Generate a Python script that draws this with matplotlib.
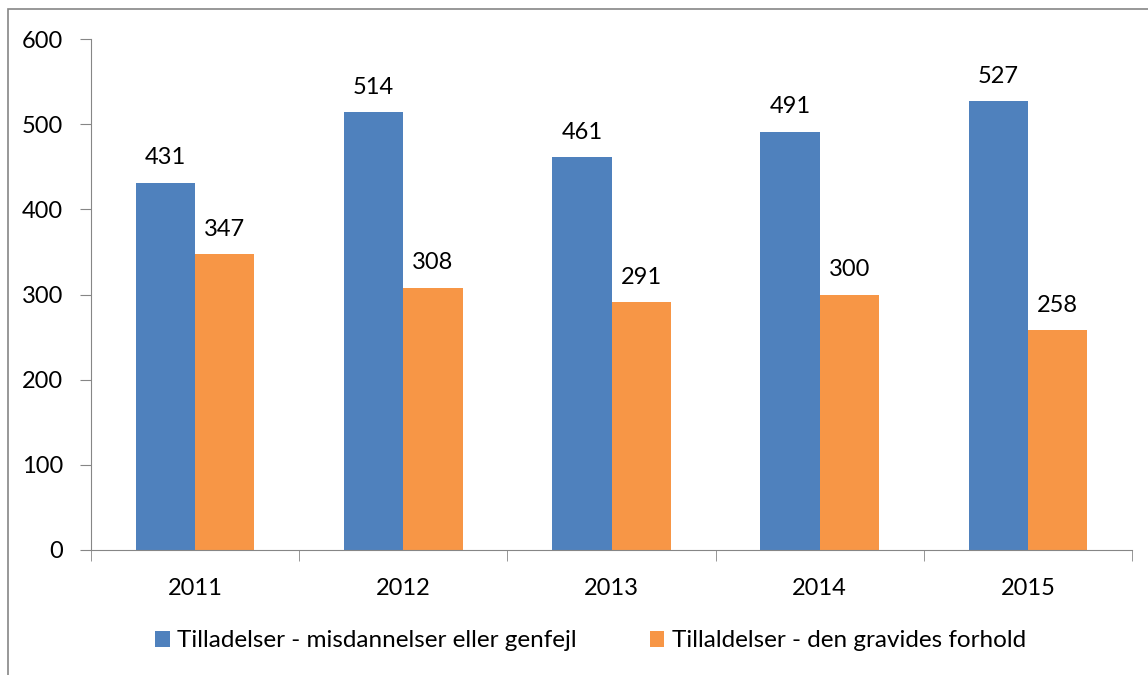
import matplotlib
matplotlib.use("Agg")
import matplotlib.pyplot as plt
import numpy as np
from matplotlib.patches import Rectangle

years = ["2011", "2012", "2013", "2014", "2015"]
misdannelser = [431, 514, 461, 491, 527]
gravides = [347, 308, 291, 300, 258]
labels = ["Tilladelser - misdannelser eller genfejl", "Tillaldelser - den gravides forhold"]

plt.rcParams['font.family'] = ['Lato', 'DejaVu Sans']

fig = plt.figure(figsize=(11.48, 6.75), dpi=100)
ax = fig.add_axes([91/1148, 1 - 550/675, (1132-91)/1148, (550-39)/675])

x = np.arange(len(years))
w = 0.285
b1 = ax.bar(x - w/2, misdannelser, w, color="#4F81BD", label=labels[0])
b2 = ax.bar(x + w/2, gravides, w, color="#F79646", label=labels[1])

for bars in (b1, b2):
    for r in bars:
        ax.text(r.get_x() + r.get_width()/2, r.get_height() + 17, str(int(r.get_height())),
                ha="center", va="bottom", fontsize=17)

ax.set_xlim(-0.5, len(years) - 0.5)
ax.set_ylim(0, 600)
ax.set_yticks(range(0, 601, 100))
ax.set_xticks(x)
ax.set_xticklabels(years)
ax.set_xticks(np.arange(-0.5, len(years)), minor=True)
ax.tick_params(axis="x", which="major", length=0, pad=20, labelsize=17)
ax.tick_params(axis="x", which="minor", length=8, color="#868686", direction="out")
ax.tick_params(axis="y", length=8, color="#868686", pad=12, labelsize=17)

for s in ("top", "right"):
    ax.spines[s].set_visible(False)
for s in ("left", "bottom"):
    ax.spines[s].set_color("#868686")

ax.legend(loc="center", bbox_to_anchor=(0.48, -0.178), ncol=2, frameon=False,
          fontsize=17.5, handlelength=0.6, handleheight=0.6, handletextpad=0.3, columnspacing=3.0)

# outer chart frame, clipped by the image edge
fig.patches.append(Rectangle((8/1148, -0.1), 1.2, 1 - 9/675 + 0.1, transform=fig.transFigure,
                             fill=False, edgecolor="#868686", linewidth=1.2))

fig.savefig("out.png", dpi=100)
